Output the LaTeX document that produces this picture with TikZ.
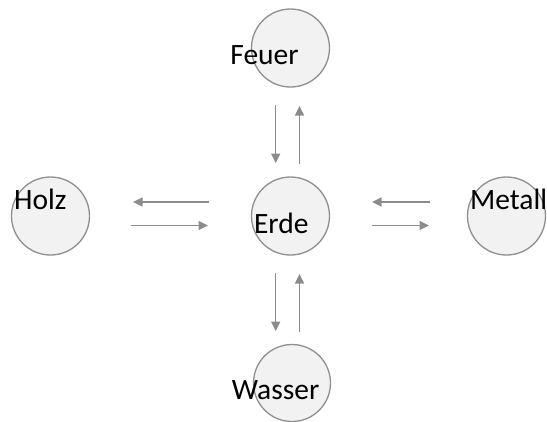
\documentclass[tikz,border=0pt]{standalone}
\usepackage{fontspec}
\setmainfont{Carlito}
\usetikzlibrary{arrows.meta}
\definecolor{ringgray}{HTML}{8F8F8F}
\definecolor{ringfill}{HTML}{F2F2F2}
\definecolor{arrowgray}{HTML}{8C8C8C}
\tikzset{
  element/.style={circle, draw=ringgray, fill=ringfill, line width=1.3pt, inner sep=0pt},
  elabel/.style={anchor=base west, inner sep=0pt, font=\fontsize{29.5}{34}\selectfont, text=black},
  flow/.style={draw=arrowgray, line width=1.5pt, -{Triangle[length=9.5pt,width=9pt]}}
}
\begin{document}
\begin{tikzpicture}[x=1pt,y=-1pt]
\useasboundingbox (0,0) rectangle (547,421);
% circles
\node[element, minimum size=78pt] (feuer) at (290.5,48) {};
\node[element, minimum size=78pt] (erde) at (290.5,216) {};
\node[element, minimum size=78pt] (holz) at (50.5,216) {};
\node[element, minimum size=78pt] (metall) at (506.5,216) {};
\node[element, minimum size=77pt] (wasser) at (292,383) {};
% labels
\node[elabel] (tfeuer) at (230.2,64.5) {Feuer};
\node[elabel] (terde) at (253.9,233) {Erde};
\node[elabel] (tholz) at (14,209) {Holz};
\node[elabel] (tmetall) at (470,209) {Metall};
\node[elabel] (twasser) at (231.7,399.5) {Wasser};
% arrow end points
\coordinate (fd1) at (275.7,105);   \coordinate (fd2) at (275.7,163);
\coordinate (fu1) at (299.5,164);   \coordinate (fu2) at (299.5,106);
\coordinate (wd1) at (275.7,273);   \coordinate (wd2) at (275.7,331);
\coordinate (wu1) at (299.5,332);   \coordinate (wu2) at (299.5,274);
\coordinate (hl1) at (209,202);     \coordinate (hl2) at (133,202);
\coordinate (hr1) at (131,225.5);   \coordinate (hr2) at (208,225.5);
\coordinate (ml1) at (430,202);     \coordinate (ml2) at (372,202);
\coordinate (mr1) at (371.5,225.5); \coordinate (mr2) at (429,225.5);
% arrows
\draw[flow] (fd1) -- (fd2);
\draw[flow] (fu1) -- (fu2);
\draw[flow] (wd1) -- (wd2);
\draw[flow] (wu1) -- (wu2);
\draw[flow] (hl1) -- (hl2);
\draw[flow] (hr1) -- (hr2);
\draw[flow] (ml1) -- (ml2);
\draw[flow] (mr1) -- (mr2);
\end{tikzpicture}
\end{document}
